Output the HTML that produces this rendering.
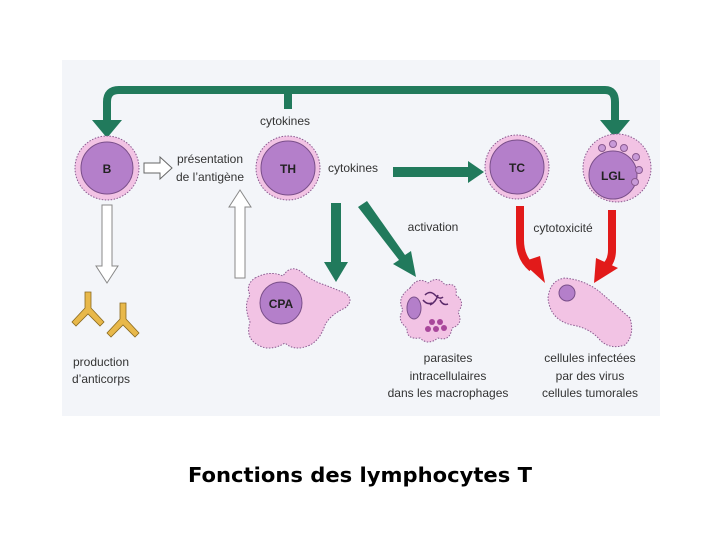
<!DOCTYPE html>
<html><head><meta charset="utf-8"><style>
html,body{margin:0;padding:0;background:#fff;width:720px;height:540px;overflow:hidden}
svg{display:block}
text{font-family:"Liberation Sans",sans-serif;fill:#333}
</style></head><body>
<svg width="720" height="540" viewBox="0 0 720 540">
<rect x="62" y="60" width="598" height="356" fill="#f3f5f9"/>
<defs>
<g id="cell"><circle r="32" fill="#f2c3e4" stroke="#8a5a90" stroke-width="1" stroke-dasharray="1.5,1.5"/></g>
</defs>
<g fill="none" stroke="#217a5c" stroke-width="8">
<path d="M107,122 V102 Q107,90 119,90 H605 Q615,90 615,102 V122"/>
<path d="M288,90 V109"/>
</g>
<path d="M92,120 L122,120 L107,138 Z" fill="#217a5c"/>
<path d="M600,120 L630,120 L615,138 Z" fill="#217a5c"/>
<g transform="translate(107,168)"><use href="#cell"/><circle r="26" fill="#b47fca" stroke="#7a4f8a"/><text y="5" text-anchor="middle" font-weight="bold" font-size="12" style="fill:#222">B</text></g>
<g transform="translate(288,168)"><use href="#cell"/><circle r="27" fill="#b47fca" stroke="#7a4f8a"/><text y="5" text-anchor="middle" font-weight="bold" font-size="12" style="fill:#222">TH</text></g>
<g transform="translate(517,167)"><use href="#cell"/><circle r="27" fill="#b47fca" stroke="#7a4f8a"/><text y="5" text-anchor="middle" font-weight="bold" font-size="12" style="fill:#222">TC</text></g>
<g transform="translate(617,168)"><circle r="34" fill="#f2c3e4" stroke="#8a5a90" stroke-dasharray="1.5,1.5"/><circle cx="-4" cy="7" r="24" fill="#b47fca" stroke="#7a4f8a"/>
<g fill="#c89ad8" stroke="#8a5a90"><circle cx="-15" cy="-20" r="3.5"/><circle cx="-4" cy="-24" r="3.5"/><circle cx="7" cy="-20" r="3.5"/><circle cx="19" cy="-11" r="3.5"/><circle cx="22" cy="2" r="3.5"/><circle cx="18" cy="14" r="3.5"/></g>
<text x="-4" y="12" text-anchor="middle" font-weight="bold" font-size="12" style="fill:#222">LGL</text></g>
<path d="M144,163 H160 V157 L172,168 L160,179 V173 H144 Z" fill="#fff" stroke="#666"/>
<path d="M102,205 H112 V266 H118 L107,283 L96,266 H102 Z" fill="#fff" stroke="#888"/>
<path d="M235,278 V207 H229 L240,190 L251,207 H245 V278 Z" fill="#fff" stroke="#888"/>
<path d="M393,167 H468 V161 L484,172 L468,183 V177 H393 Z" fill="#217a5c"/>
<path d="M331,203 H341 V262 H348 L336,282 L324,262 H331 Z" fill="#217a5c"/>
<path d="M358,207 L367,201 L405,255 L411,251 L416,277 L393,264 L399,260 Z" fill="#217a5c"/>
<g fill="none" stroke="#e21a1a" stroke-width="8"><path d="M520,206 V240 Q520,258 532,268"/><path d="M612,210 V250 Q612,262 604,268"/></g>
<path d="M522,262 L545,283 L540,256 Z" fill="#e21a1a"/>
<path d="M596,258 L594,283 L618,268 Z" fill="#e21a1a"/>
<path d="M255,278 Q270,270 283,276 Q292,262 305,275 Q315,282 325,285 L345,293 Q355,300 345,308 Q330,315 325,325 Q320,340 310,345 Q295,352 285,343 Q270,352 258,345 Q245,338 250,322 Q243,305 250,295 Q245,285 255,278 Z" fill="#f2c3e4" stroke="#8a5a90" stroke-dasharray="1.5,1.5"/>
<circle cx="281" cy="303" r="21" fill="#b47fca" stroke="#7a4f8a"/>
<text x="281" y="308" text-anchor="middle" font-weight="bold" font-size="12" style="fill:#222">CPA</text>
<path d="M410,288 Q418,276 428,283 Q438,275 445,285 Q458,282 456,295 Q466,302 458,312 Q464,324 452,328 Q450,342 438,338 Q428,346 420,338 Q406,340 407,328 Q396,320 403,310 Q396,298 410,288 Z" fill="#f2c3e4" stroke="#8a5a90" stroke-dasharray="1.5,1.5"/>
<ellipse cx="414" cy="308" rx="7" ry="11" fill="#b47fca" stroke="#7a4f8a"/>
<g fill="none" stroke="#5a2a6a" stroke-width="1.5"><path d="M425,295 q5,-5 10,0 t8,2"/><path d="M430,305 q6,-3 8,-10"/><path d="M440,300 q3,6 8,4"/><path d="M423,300 q4,5 9,3"/></g>
<g fill="#a8469a"><circle cx="432" cy="322" r="3"/><circle cx="440" cy="322" r="3"/><circle cx="428" cy="329" r="3"/><circle cx="436" cy="329" r="3"/><circle cx="444" cy="328" r="3"/></g>
<path d="M548,298 Q550,280 565,278 Q585,280 600,292 Q615,305 630,318 Q635,335 625,345 Q610,350 600,340 Q590,328 572,325 Q550,320 548,298 Z" fill="#f2c3e4" stroke="#8a5a90" stroke-dasharray="1.5,1.5"/>
<circle cx="567" cy="293" r="8" fill="#b47fca" stroke="#7a4f8a"/>
<g fill="#e8b84a" stroke="#8a6a20" stroke-width="0.8">
<path d="M85,292 h6 v16 l13,14 -4,4 -12,-12 -12,12 -4,-4 13,-14 z"/>
<path d="M120,303 h6 v16 l13,14 -4,4 -12,-12 -12,12 -4,-4 13,-14 z"/>
</g>
<g font-size="12" text-anchor="middle">
<text x="285" y="125">cytokines</text>
<text x="210" y="163">présentation</text>
<text x="210" y="181">de l’antigène</text>
<text x="353" y="172">cytokines</text>
<text x="433" y="231">activation</text>
<text x="563" y="232">cytotoxicité</text>
<text x="101" y="366">production</text>
<text x="101" y="383">d’anticorps</text>
<text x="448" y="362">parasites</text>
<text x="448" y="380">intracellulaires</text>
<text x="448" y="397">dans les macrophages</text>
<text x="590" y="362">cellules infectées</text>
<text x="590" y="380">par des virus</text>
<text x="590" y="397">cellules tumorales</text>
</g>
<text x="188" y="482" font-weight="bold" font-size="20" style="fill:#000;font-family:'DejaVu Sans',sans-serif" textLength="344" lengthAdjust="spacingAndGlyphs">Fonctions des lymphocytes T</text>
</svg>
</body></html>
